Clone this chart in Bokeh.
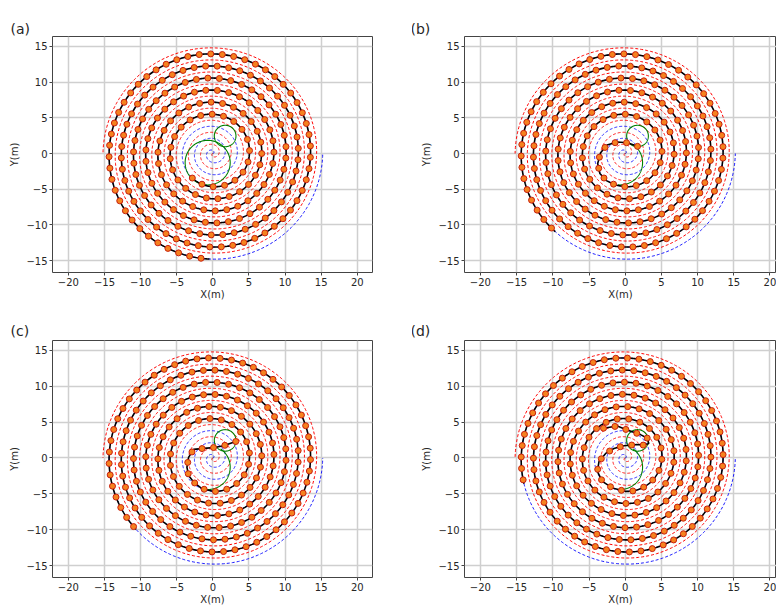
import numpy as np
from bokeh.plotting import figure
from bokeh.layouts import column, row
from bokeh.models import FixedTicker, Range1d, Title
from bokeh.embed import file_html
from bokeh.resources import INLINE

# ---------------- data ----------------
PITCH = 1.69        # m per turn of the Archimedean spiral
TURNS = 9.0         # turns of the reference spiral
MARKER_STEP = 1.6   # m between path samples

panel_labels = ["(a)", "(b)", "(c)", "(d)"]
x_ticks = [-20, -15, -10, -5, 0, 5, 10, 15, 20]
y_ticks = [-15, -10, -5, 0, 5, 10, 15]
x_tick_labels = ["\u221220", "\u221215", "\u221210", "\u22125", "0", "5", "10", "15", "20"]
y_tick_labels = ["\u221215", "\u221210", "\u22125", "0", "5", "10", "15"]

# part of the path lying on the spiral (turn numbers)
spiral_start = [2.64, 2.75, 2.75, 2.75]
spiral_end = [8.745, 8.635, 8.62, 8.54]

# entry manoeuvre before the path joins the spiral
entry_x_a = []
entry_y_a = []
entry_x_b = [1.70, 0.30, -1.10, -2.50, -3.40, -3.80, -3.50, -2.60, -1.40]
entry_y_b = [1.00, 1.50, 1.60, 1.20, 0.10, -1.40, -2.80, -3.80, -4.40]
entry_x_c = [3.17, 1.47, 0.23, -0.83, -2.67, -3.36, -3.59, -3.36, -2.67, -1.52]
entry_y_c = [2.30, 1.70, 1.47, 1.38, 1.20, 0.09, -1.29, -2.44, -3.36, -4.28]
entry_x_d = [-3.00, -1.10, 0.18, 2.10, 3.03, 3.26, 2.57, 1.65, -0.18, -1.56, -2.70, -3.62, -3.85, -3.16, -1.79, -0.41]
entry_y_d = [4.15, 4.45, 3.95, 3.26, 2.80, 2.02, 1.79, 1.88, 1.70, 1.33, 0.64, -0.50, -1.88, -3.26, -4.17, -4.54]

# turning circles (centre x, centre y, radius)
small_circle = [1.70, 2.45, 1.50]
large_circle = [-0.72, -1.28, 3.12]
large_arc_from = [-180, -95, -95, -95]   # degrees
large_arc_to = [180, 55, 55, 55]

entries = [(entry_x_a, entry_y_a), (entry_x_b, entry_y_b),
           (entry_x_c, entry_y_c), (entry_x_d, entry_y_d)]

FONT = "DejaVu Sans"
TEXT = "#262626"


def spiral(t0, t1, n):
    t = np.linspace(t0, t1, n)
    return PITCH * t * np.cos(2 * np.pi * t), PITCH * t * np.sin(2 * np.pi * t)


def resample(x, y, step):
    x = np.asarray(x, float)
    y = np.asarray(y, float)
    s = np.concatenate([[0], np.cumsum(np.hypot(np.diff(x), np.diff(y)))])
    si = np.arange(0, s[-1] + 1e-9, step)
    return np.interp(si, s, x), np.interp(si, s, y)


def make_panel(i, width, height, left, right, top, frame_h, x_rng, y_rng,
               title_offset, title_standoff):
    bottom = height - top - frame_h
    title = Title(text=panel_labels[i], align="left", offset=title_offset,
                  text_font=FONT, text_font_size="14px",
                  text_font_style="normal", text_color=TEXT,
                  standoff=title_standoff)
    p = figure(width=width, height=height, title=title,
               x_range=Range1d(*x_rng), y_range=Range1d(*y_rng),
               output_backend="svg", toolbar_location=None,
               min_border_left=left, min_border_right=right,
               min_border_top=top, min_border_bottom=bottom)
    p.outline_line_color = "#444444"
    p.outline_line_width = 1
    p.background_fill_color = "white"
    p.border_fill_color = "white"
    for ax, ticks, labels, name in ((p.xaxis[0], x_ticks, x_tick_labels, "X(m)"),
                                    (p.yaxis[0], y_ticks, y_tick_labels, "Y(m)")):
        ax.ticker = FixedTicker(ticks=ticks)
        ax.major_label_overrides = {t: l for t, l in zip(ticks, labels)}
        ax.major_label_text_font = FONT
        ax.major_label_text_font_size = "10px"
        ax.major_label_text_color = TEXT
        ax.major_label_standoff = 2
        ax.axis_label = name
        ax.axis_label_text_font = FONT
        ax.axis_label_text_font_size = "10px"
        ax.axis_label_text_font_style = "normal"
        ax.axis_label_text_color = TEXT
        ax.axis_label_standoff = 0 if name == "X(m)" else 3
        ax.axis_line_color = None
        ax.major_tick_line_color = "#444444"
        ax.major_tick_out = 3
        ax.major_tick_in = 0
        ax.minor_tick_line_color = None
    p.xgrid.ticker = FixedTicker(ticks=x_ticks)
    p.ygrid.ticker = FixedTicker(ticks=y_ticks)
    for g in (p.xgrid[0], p.ygrid[0]):
        g.grid_line_color = "#cfcfcf"
        g.grid_line_width = 1.5

    # reference spiral (blue) and its opposite arm (red)
    bx, by = spiral(0, TURNS, 4000)
    p.line(bx, by, line_color="blue", line_width=0.9, line_dash="3 2")
    p.line(-bx, -by, line_color="red", line_width=1.0, line_dash="3 2")

    # turning circles
    cx, cy, cr = small_circle
    a = np.linspace(0, 2 * np.pi, 200)
    p.line(cx + cr * np.cos(a), cy + cr * np.sin(a), line_color="green", line_width=1.1)
    lx, ly, lr = large_circle
    a = np.radians(np.linspace(large_arc_from[i], large_arc_to[i], 200))
    p.line(lx + lr * np.cos(a), ly + lr * np.sin(a), line_color="green", line_width=1.1)

    # travelled path
    ex, ey = entries[i]
    sx, sy = spiral(spiral_start[i], spiral_end[i], 3000)
    px = np.concatenate([np.asarray(ex, float), sx])
    py = np.concatenate([np.asarray(ey, float), sy])
    p.line(px, py, line_color="black", line_width=1.6)
    mx, my = resample(px, py, MARKER_STEP)
    p.scatter(mx, my, size=6, fill_color="#f5821f", line_color="#c8200f", line_width=1)
    return p


XA = (-22.2, 22.1)
YA = (-16.66, 16.38)
XB = (-22.2, 20.9)
pa = make_panel(0, 412, 307, 52, 40, 33, 239, XA, YA, -42, 0)
pb = make_panel(1, 364, 307, 52, 0, 36, 239, XB, YA, -54, 0)
pc = make_panel(2, 412, 301, 52, 40, 33, 237, XA, YA, -42, 3)
pd = make_panel(3, 364, 301, 52, 0, 33, 237, XB, YA, -54, 3)

layout = column(row(pa, pb), row(pc, pd))
open("out.html", "w").write(file_html(layout, INLINE))
